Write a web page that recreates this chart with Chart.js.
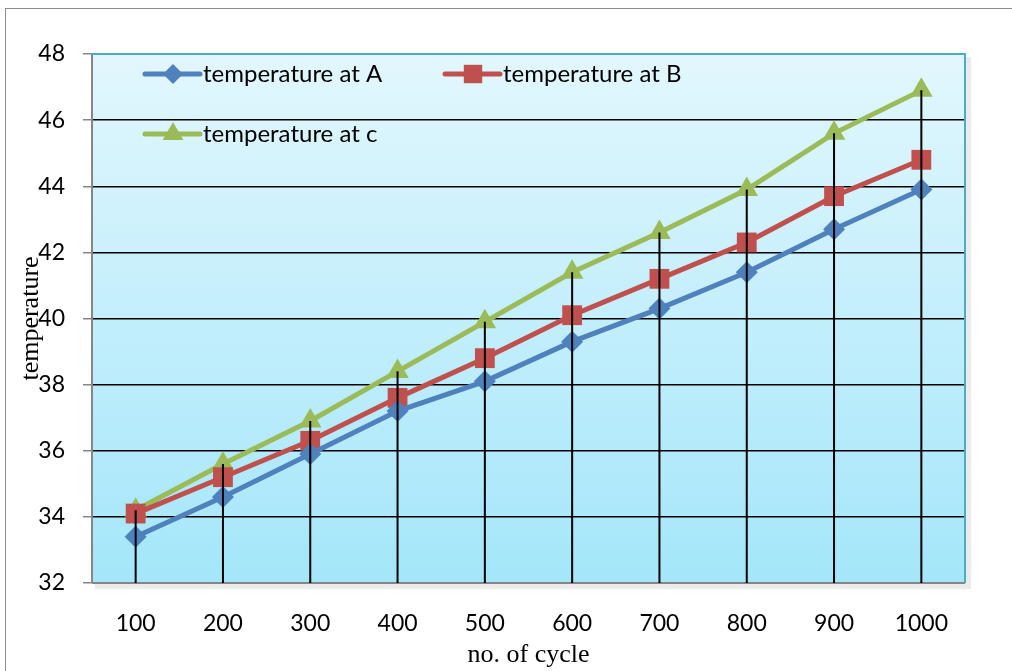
<!DOCTYPE html>
<html>
<head>
<meta charset="utf-8">
<script src="https://cdn.jsdelivr.net/npm/chart.js@4/dist/chart.umd.min.js"></script>
<style>
  html, body { margin: 0; padding: 0; background: #fff; }
  #wrap { width: 1012px; height: 671px; position: relative; }
</style>
</head>
<body>
<div id="wrap"><canvas id="tempChart"></canvas></div>
<script>
// data
const cycles = ['100', '200', '300', '400', '500', '600', '700', '800', '900', '1000'];
const tempA = [33.4, 34.6, 35.9, 37.2, 38.1, 39.3, 40.3, 41.4, 42.7, 43.9];
const tempB = [34.1, 35.2, 36.3, 37.6, 38.8, 40.1, 41.2, 42.3, 43.7, 44.8];
const tempC = [34.2, 35.6, 36.9, 38.4, 39.9, 41.4, 42.6, 43.9, 45.6, 46.9];
const yTicks = [32, 34, 36, 38, 40, 42, 44, 46, 48];

const tickFont = { family: 'Lato', size: 23 };
const titleFont = { family: 'Liberation Serif', size: 26 };

// background gradient, outer frame
const backdrop = {
    id: 'backdrop',
    beforeDraw(chart) {
        const { ctx, chartArea: a } = chart;
        ctx.save();
        ctx.strokeStyle = '#8c8c8c';
        ctx.lineWidth = 1;
        ctx.strokeRect(5.5, 8.5, 1100, 700);
        // shadow under plot area
        ctx.fillStyle = 'rgba(0,0,0,0.08)';
        ctx.fillRect(a.left + 3, a.top + 3, a.width + 3, a.height + 3);
        const g = ctx.createLinearGradient(0, a.top, 0, a.bottom);
        g.addColorStop(0, '#e2f7fd');
        g.addColorStop(1, '#a4e6fa');
        ctx.fillStyle = g;
        ctx.fillRect(a.left, a.top, a.width, a.height);
        ctx.restore();
    },
    beforeDatasetsDraw(chart) {
        const { ctx, chartArea: a } = chart;
        ctx.save();
        ctx.strokeStyle = '#4bacc6';
        ctx.lineWidth = 2;
        ctx.beginPath();
        ctx.moveTo(a.left, a.top);
        ctx.lineTo(a.right, a.top);
        ctx.lineTo(a.right, a.bottom);
        ctx.stroke();
        ctx.strokeStyle = '#868686';
        ctx.beginPath();
        ctx.moveTo(a.left, a.bottom);
        ctx.lineTo(a.right, a.bottom);
        ctx.stroke();
        ctx.restore();
    }
};

// drop lines from the highest series down to the axis
const dropLines = {
    id: 'dropLines',
    afterDatasetsDraw(chart) {
        const { ctx, chartArea: a, scales: { x, y } } = chart;
        ctx.save();
        ctx.strokeStyle = '#000';
        ctx.lineWidth = 2;
        cycles.forEach((c, i) => {
            const top = Math.max(tempA[i], tempB[i], tempC[i]);
            const px = x.getPixelForValue(i);
            ctx.beginPath();
            ctx.moveTo(px, y.getPixelForValue(top));
            ctx.lineTo(px, a.bottom);
            ctx.stroke();
        });
        ctx.restore();
    }
};

// legend sits inside the plot area
const innerLegend = {
    id: 'innerLegend',
    afterDatasetsDraw(chart) {
        const { ctx, chartArea: a } = chart;
        const spots = [[a.left + 53, a.top + 20], [a.left + 353, a.top + 20], [a.left + 53, a.top + 80]];
        const sizes = [10, 13, 12];
        ctx.save();
        chart.data.datasets.forEach((ds, i) => {
            const [lx, ly] = spots[i];
            ctx.strokeStyle = ds.borderColor;
            ctx.lineWidth = 5;
            ctx.lineCap = 'round';
            ctx.beginPath();
            ctx.moveTo(lx, ly);
            ctx.lineTo(lx + 55, ly);
            ctx.stroke();
            ctx.fillStyle = ds.pointBackgroundColor;
            Chart.helpers.drawPoint(ctx, {
                pointStyle: ds.pointStyle, radius: sizes[i], rotation: 0, borderWidth: 0
            }, lx + 28, ly);
            ctx.fillStyle = '#000';
            ctx.font = '24px Lato';
            ctx.textBaseline = 'middle';
            ctx.fillText(ds.label, lx + 58, ly);
        });
        ctx.restore();
    }
};

function series(label, data, color, style, r) {
    return {
        label: label,
        data: data,
        borderColor: color,
        backgroundColor: color,
        pointBackgroundColor: color,
        pointBorderColor: color,
        pointBorderWidth: 0,
        pointStyle: style,
        pointRadius: r,
        borderWidth: 5,
        tension: 0
    };
}

new Chart(document.getElementById('tempChart'), {
    type: 'line',
    data: {
        labels: cycles,
        datasets: [
            series('temperature at A', tempA, '#4f81bd', 'rectRot', 11),
            series('temperature at B', tempB, '#c0504d', 'rect', 14),
            series('temperature at c', tempC, '#9bbb59', 'triangle', 13)
        ]
    },
    plugins: [backdrop, dropLines, innerLegend],
    options: {
        responsive: true,
        maintainAspectRatio: false,
        animation: false,
        layout: { padding: { left: 0, top: 54, right: 47, bottom: 0 } },
        plugins: { legend: { display: false }, tooltip: { enabled: false } },
        scales: {
            x: {
                offset: true,
                grid: { display: false },
                border: { display: false },
                ticks: { font: tickFont, color: '#000', padding: 19 },
                title: { display: true, text: 'no. of cycle', font: titleFont, color: '#000', padding: { top: 0, bottom: 0 } },
                afterFit(s) { s.height = 88; }
            },
            y: {
                min: 32,
                max: 48,
                afterBuildTicks(s) { s.ticks = yTicks.map(v => ({ value: v })); },
                grid: {
                    color: c => (c.tick && (c.tick.value === 32 || c.tick.value === 48)) ? 'rgba(0,0,0,0)' : '#000',
                    lineWidth: 1.5,
                    tickColor: '#868686',
                    tickLength: 9
                },
                border: { color: '#868686', width: 2 },
                ticks: { font: tickFont, color: '#000', padding: 18 },
                title: { display: true, text: 'temperature', font: titleFont, color: '#000', padding: { top: 16, bottom: 0 } },
                afterFit(s) { s.width = 92; }
            }
        }
    }
});
</script>
</body>
</html>
